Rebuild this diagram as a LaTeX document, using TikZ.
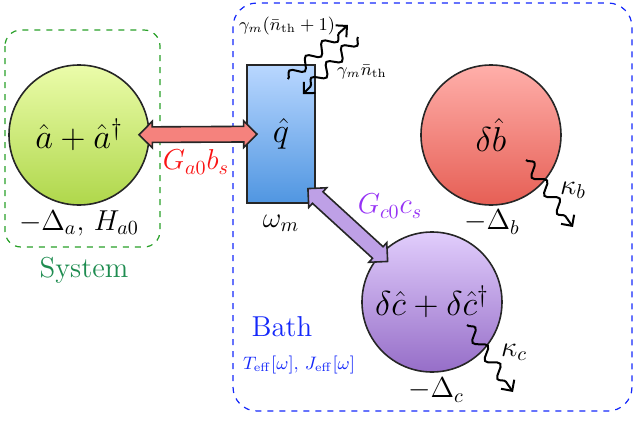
\documentclass[tikz,border=0pt]{standalone}
\usepackage{amsmath,amssymb}
\usepackage{xcolor}
\definecolor{sysgreen}{RGB}{30,140,80}
\definecolor{boxgreen}{RGB}{40,160,40}
\definecolor{bathblue}{RGB}{20,40,250}
\definecolor{coupred}{RGB}{250,20,20}
\definecolor{couppurple}{RGB}{150,50,245}
\usetikzlibrary{arrows.meta,shapes.arrows,positioning,calc,
                decorations.pathmorphing}
\tikzset{
  mode/.style={circle,draw=black!85,thick,minimum size=70pt,
               inner sep=0pt,font=\LARGE},
  link/.style={double arrow,draw=black!85,thick,inner xsep=0pt,
               inner ysep=3.5pt,double arrow head extend=2.75pt,
               double arrow tip angle=90},
  decay/.style={-{Straight Barb[length=4pt,width=8pt]},line width=1pt,
                decorate,decoration={snake,amplitude=2.75pt,
                segment length=11pt,post length=4pt}},
}
\begin{document}
\begin{tikzpicture}[x=0.5pt,y=-0.5pt,
    lbl/.style={font=\Large},
    small/.style={font=\small},
  ]
  \useasboundingbox (0,0) rectangle (634,424);

  \draw[boxgreen,semithick,dashed,rounded corners=8pt] (5,30) rectangle (160,247);
  \draw[bathblue,semithick,dashed,rounded corners=12pt] (233,3) rectangle (632,411);

  \node[mode,top color={rgb,255:red,235;green,252;blue,170},
        bottom color={rgb,255:red,175;green,215;blue,75}]
        (a) at (79,135) {$\hat a+\hat a^\dagger$};
  \node[rectangle,draw=black!85,thick,minimum width=34pt,minimum height=69pt,
        inner sep=0pt,font=\LARGE,
        top color={rgb,255:red,185;green,215;blue,255},
        bottom color={rgb,255:red,80;green,150;blue,225}]
        (q) at (281,134) {$\hat q$};
  \node[mode,top color={rgb,255:red,255;green,175;blue,170},
        bottom color={rgb,255:red,230;green,95;blue,85}]
        (b) at (491,135) {$\delta\hat b$};
  \node[mode,top color={rgb,255:red,225;green,205;blue,252},
        bottom color={rgb,255:red,150;green,110;blue,200}]
        (c) at (432,302) {$\delta\hat c+\delta\hat c^\dagger$};

  \node[lbl] (da)  at (79,223)  {$-\Delta_a,\,H_{a0}$};
  \node[lbl,text=sysgreen] (sys) at (84,270) {System};
  \node[lbl] (wm)  at (281,223) {$\omega_m$};
  \node[lbl] (db)  at (492,222) {$-\Delta_b$};
  \node[lbl] (dc)  at (436,390) {$-\Delta_c$};
  \node[lbl,text=bathblue] (bath) at (282,327) {Bath};
  \node[small,text=bathblue] (teff) at (299,365)
      {$T_{\mathrm{eff}}[\omega],\,J_{\mathrm{eff}}[\omega]$};

  % couplings
  \path (a) -- (q) node[link,sloped,midway,minimum height=59pt,
      fill={rgb,255:red,245;green,130;blue,125}] (ga) {};
  \path ([yshift=4pt]q.south east) -- (c) node[link,sloped,midway,
      minimum height=54pt,fill={rgb,255:red,190;green,160;blue,230}] (gc) {};
  \node[lbl,text=coupred]    (gal) at (196,162) {$G_{a0}b_s$};
  \node[lbl,text=couppurple] (gcl) at (390,206) {$G_{c0}c_s$};

  % losses
  \coordinate (mout) at (348,25);
  \coordinate (min)  at (358,37);
  \coordinate (kbout) at (573,227);
  \coordinate (kcout) at (513,392);
  \draw[decay] ([shift={(7,15)}]q.north) -- (mout);
  \draw[decay] (min) -- ([shift={(22,30)}]q.north);
  \draw[decay] ([shift={(35,25)}]b.center) -- (kbout);
  \draw[decay] ([shift={(35,23)}]c.center) -- (kcout);
  \node[small] (gup) at (287,26) {$\gamma_m(\bar n_{\mathrm{th}}+1)$};
  \node[small] (gdn) at (362,72) {$\gamma_m\bar n_{\mathrm{th}}$};
  \node[lbl] (kb) at (573,190) {$\kappa_b$};
  \node[lbl] (kc) at (514,352) {$\kappa_c$};

\end{tikzpicture}
\end{document}
